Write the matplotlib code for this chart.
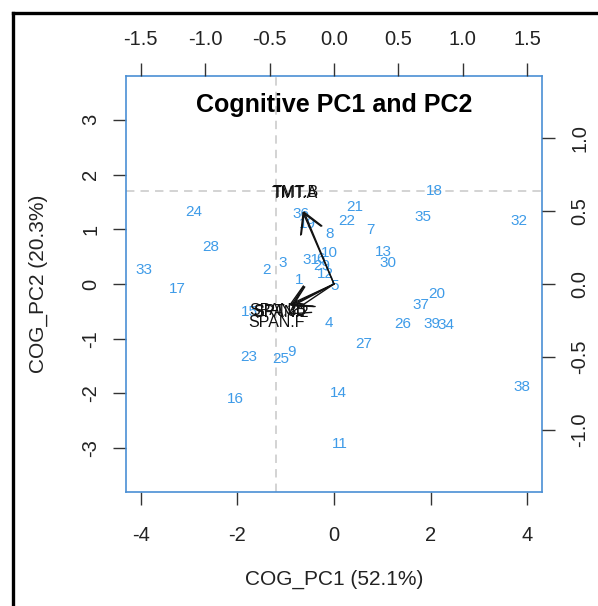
import matplotlib
matplotlib.use("Agg")
import matplotlib.pyplot as plt
from matplotlib.lines import Line2D

plt.rcParams['font.family'] = ['Liberation Sans', 'DejaVu Sans']

# ---- data: PC scores (observations) ----
obs_labels = [str(i) for i in range(1, 40)]
pc1 = [-0.72, -1.39, -1.06, -0.10, 0.02, -0.27, 0.75, -0.10, -0.88, -0.10,
       0.12, -0.17, 1.02, 0.09, -1.75, -2.05, -3.24, 2.07, -0.56, 2.13,
       0.43, 0.26, -1.77, -2.91, -1.10, 1.43, 0.62, -2.55, -0.25, 1.12,
       -0.48, 3.83, -3.93, 2.33, 1.85, -0.68, 1.80, 3.90, 2.02]
pc2 = [0.08, 0.25, 0.39, -0.72, -0.03, 0.45, 0.98, 0.92, -1.24, 0.56,
       -2.93, 0.19, 0.58, -1.99, -0.52, -2.11, -0.09, 1.69, 1.09, -0.19,
       1.40, 1.16, -1.34, 1.31, -1.37, -0.73, -1.10, 0.67, 0.32, 0.38,
       0.43, 1.15, 0.26, -0.74, 1.22, 1.27, -0.39, -1.88, -0.73]

# ---- data: variable loadings ----
var_labels = ["TMT.A", "TMT.B", "SPAN.B", "SRT.30", "SPAN.2", "SPAN.F"]
load1 = [-0.305, -0.295, -0.435, -0.425, -0.412, -0.445]
load2 = [0.620, 0.625, -0.178, -0.186, -0.192, -0.263]

x_ticks = [-4, -2, 0, 2, 4]
y_ticks = [-3, -2, -1, 0, 1, 2, 3]
top_ticks = [-1.5, -1.0, -0.5, 0.0, 0.5, 1.0, 1.5]
right_ticks = [-1.0, -0.5, 0.0, 0.5, 1.0]
ref_h, ref_v = 1.69, -1.2
title = "Cognitive PC1 and PC2"
xlab = "COG_PC1 (52.1%)"
ylab = "COG_PC2 (20.3%)"

W, H = 598, 606
fig = plt.figure(figsize=(W / 100, H / 100), dpi=100)
L, R, T, B = 126, 542, 76, 492
pos = [L / W, 1 - B / H, (R - L) / W, (B - T) / H]

ratio = 2.67
xlim = (-4.31, 4.31)
ylim = (-3.80, 3.80)

blue_box = "#4A8FD4"
pt_col = "#3E9BE8"
tick_col = "#333333"
txt_col = "#222222"

ax = fig.add_axes(pos)
ax.set_xlim(*xlim)
ax.set_ylim(*ylim)
for s in ax.spines.values():
    s.set_color(blue_box)
    s.set_linewidth(1.2)
ax.set_xticks(x_ticks)
ax.set_yticks(y_ticks)
ax.set_xticklabels([str(v) for v in x_ticks])
ax.set_yticklabels([str(v) for v in y_ticks])
ax.tick_params(axis='both', direction='out', length=9.5, width=1.0,
               color=tick_col, labelcolor=txt_col, labelsize=14.5)
ax.tick_params(axis='x', pad=15)
ax.tick_params(axis='y', pad=9, labelrotation=90)
for lbl in ax.get_yticklabels():
    lbl.set_va('center')

ax.axhline(ref_h, color='#c8c8c8', lw=1.1, linestyle=(0, (5.5, 4)), zorder=1)
ax.axvline(ref_v, color='#c8c8c8', lw=1.1, linestyle=(0, (5.5, 4)), zorder=1)

for lab, x, y in zip(obs_labels, pc1, pc2):
    ax.text(x, y, lab, color=pt_col, fontsize=11, ha='center', va='center', zorder=3)

ax.set_xlabel(xlab, fontsize=15, color=txt_col, labelpad=18)
ax.set_ylabel(ylab, fontsize=15, color=txt_col, labelpad=24)
ax.text(0.5, 0.930, title, transform=ax.transAxes, fontsize=18,
        fontweight='bold', ha='center', va='center', color='black')

# loadings axes
ax2 = fig.add_axes(pos)
ax2.set_xlim(xlim[0] / ratio, xlim[1] / ratio)
ax2.set_ylim(ylim[0] / ratio, ylim[1] / ratio)
ax2.patch.set_visible(False)
for s in ax2.spines.values():
    s.set_visible(False)
ax2.xaxis.tick_top()
ax2.yaxis.tick_right()
ax2.set_xticks(top_ticks)
ax2.set_yticks(right_ticks)
ax2.set_xticklabels([f"{v:.1f}" for v in top_ticks])
ax2.set_yticklabels([f"{v:.1f}" for v in right_ticks])
ax2.tick_params(axis='both', direction='out', length=9.5, width=1.0,
                color=tick_col, labelcolor=txt_col, labelsize=14.5)
ax2.tick_params(axis='x', pad=10)
ax2.tick_params(axis='y', pad=11, labelrotation=90)
for lbl in ax2.get_yticklabels():
    lbl.set_va('center')

for lab, lx, ly in zip(var_labels, load1, load2):
    ax2.annotate("", xy=(0.8 * lx, 0.8 * ly), xytext=(0, 0),
                 arrowprops=dict(arrowstyle="->,head_length=1.4,head_width=0.8",
                                 color='#111111', lw=1.0, shrinkA=0, shrinkB=0,
                                 mutation_scale=10), zorder=4)
    ax2.text(lx, ly, lab, color='#111111', fontsize=11.5, ha='center',
             va='center', zorder=5)

# outer frame lines
fig.add_artist(Line2D([13 / W, 13 / W], [0, 1 - 13 / H], transform=fig.transFigure,
                      color='black', lw=2.4))
fig.add_artist(Line2D([13 / W, 1], [1 - 13 / H, 1 - 13 / H], transform=fig.transFigure,
                      color='black', lw=2.4))

fig.savefig("out.png", dpi=100)
